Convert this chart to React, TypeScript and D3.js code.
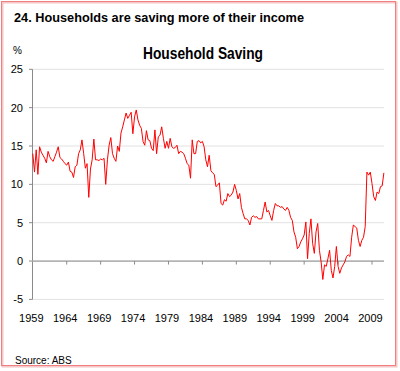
import React from "react";
import * as d3 from "d3";

const startYear = 1959;
const savingRatio: number[] = [
  14.0, 11.6, 14.5, 11.3, 14.9, 14.2, 13.8, 13.4, 12.8, 14.3,
  13.6, 13.2, 13.0, 13.6, 14.2, 14.9, 13.5, 13.3, 13.0, 12.7,
  12.5, 12.9, 11.7, 11.6, 10.9, 12.3, 12.5, 14.0, 14.5, 15.8,
  14.0, 12.1, 12.7, 8.3, 12.0, 13.2, 15.9, 13.2, 13.2, 13.1,
  13.3, 13.2, 13.4, 10.0, 13.2, 15.1, 16.1, 14.0, 13.4, 13.0,
  15.0, 14.3, 16.7, 17.5, 18.4, 19.3, 18.6, 19.0, 19.4, 16.6,
  18.8, 19.7, 18.4, 17.7, 17.3, 15.6, 15.1, 17.0, 15.8, 15.7,
  14.7, 14.4, 17.1, 14.0, 16.2, 16.4, 17.5, 16.0, 14.7, 15.6,
  14.7, 16.0, 14.9, 14.7, 14.8, 15.1, 14.0, 14.3, 14.2, 14.0,
  13.4, 12.7, 12.5, 10.8, 15.8, 14.0, 14.0, 15.6, 15.7, 15.4,
  15.6, 14.9, 13.2, 12.3, 13.8, 11.8, 11.5, 11.3, 9.7, 9.9,
  10.2, 7.5, 7.3, 8.0, 7.8, 8.8, 8.4, 8.6, 9.0, 10.0,
  9.2, 8.1, 8.8, 7.0, 6.2, 5.5, 5.5, 5.3, 4.7, 5.7,
  5.9, 5.7, 5.8, 5.5, 5.5, 5.5, 6.6, 7.7, 6.4, 6.6,
  5.9, 5.3, 6.6, 7.5, 7.2, 7.2, 7.0, 7.1, 6.8, 6.6,
  7.0, 6.6, 5.7, 5.3, 3.8, 3.1, 1.6, 1.9, 2.5, 2.9,
  3.4, 5.1, 0.3, 3.6, 5.5, 2.3, 1.0, 3.8, 4.9, 1.4,
  -0.1, -2.4, -0.5, -0.7, 0.3, 1.4, -1.2, -2.2, -0.7, 1.9,
  -0.7, -1.6, -0.9, -0.5, -0.1, 0.6, 0.8, 0.6, 3.1, 4.7,
  4.5, 4.3, 2.7, 1.9, 2.7, 3.1, 4.5, 11.6, 11.2, 11.6,
  10.1, 8.4, 7.9, 9.0, 8.8, 9.7, 9.8, 11.5,
];
const yTicks = [25, 20, 15, 10, 5, 0, -5];
const xTickYears = [1959, 1964, 1969, 1974, 1979, 1984, 1989, 1994, 1999, 2004, 2009];

const W = 400;
const H = 371;
const FONT = "'Liberation Sans', Arial, Helvetica, sans-serif";
const NARROW = "'Liberation Sans Narrow', 'Arial Narrow', 'Liberation Sans', Arial, sans-serif";

export default function App() {
  const x = d3.scaleLinear().domain([1959, 2009]).range([32.8, 372]);
  const y = d3.scaleLinear().domain([-5, 25]).range([299.4, 69.3]);
  const plotLeft = 32.5;
  const plotRight = 384;

  const pts = savingRatio.map((v, i) => ({ t: startYear + i / 4, v }));
  const line = d3
    .line<{ t: number; v: number }>()
    .x((d) => x(d.t))
    .y((d) => y(d.v));

  return (
    <svg
      width={W}
      height={H}
      style={{ position: "absolute", left: 0, top: 0, background: "#fff" }}
    >
      {/* frame */}
      <rect x={2.5} y={2.5} width={394} height={364} fill="none" stroke="#f7c6c6" strokeWidth={2} />
      <rect x={1.5} y={1.5} width={394} height={364} fill="none" stroke="#ef7f80" strokeWidth={1} />

      {/* titles */}
      <text
        x={14}
        y={22}
        fontFamily={NARROW}
        fontWeight="bold"
        fontSize={13.5}
        textLength={290}
        lengthAdjust="spacingAndGlyphs"
        fill="#000"
      >
        24. Households are saving more of their income
      </text>
      <text
        x={143}
        y={59}
        fontFamily={NARROW}
        fontWeight="bold"
        fontSize={16.5}
        textLength={120}
        lengthAdjust="spacingAndGlyphs"
        fill="#000"
      >
        Household Saving
      </text>
      <text x={13} y={54} fontFamily={FONT} fontSize={10} fill="#000">
        %
      </text>

      {/* gridlines */}
      {yTicks
        .filter((t) => t !== 0)
        .map((t) => (
          <line
            key={"g" + t}
            x1={plotLeft}
            x2={plotRight}
            y1={y(t)}
            y2={y(t)}
            stroke="#e2e2e2"
            strokeWidth={1}
          />
        ))}

      {/* y axis */}
      <line x1={plotLeft} x2={plotLeft} y1={y(25)} y2={y(-5)} stroke="#8a8a8a" strokeWidth={1} />
      {yTicks.map((t) => (
        <g key={"yt" + t}>
          <line x1={plotLeft - 3.5} x2={plotLeft} y1={y(t)} y2={y(t)} stroke="#8a8a8a" strokeWidth={1} />
          <text
            x={23}
            y={y(t) + 4}
            textAnchor="end"
            fontFamily={FONT}
            fontSize={11}
            fill="#000"
          >
            {t}
          </text>
        </g>
      ))}

      {/* zero axis */}
      <line x1={plotLeft} x2={plotRight} y1={y(0)} y2={y(0)} stroke="#b4b4b4" strokeWidth={1.8} />
      {xTickYears.slice(1).map((yr) => (
        <line
          key={"xt" + yr}
          x1={x(yr)}
          x2={x(yr)}
          y1={y(0)}
          y2={y(0) + 3.5}
          stroke="#8a8a8a"
          strokeWidth={1}
        />
      ))}
      {xTickYears.map((yr) => (
        <text
          key={"xl" + yr}
          x={x(yr) - 1.5}
          y={322}
          textAnchor="middle"
          fontFamily={FONT}
          fontSize={11}
          fill="#000"
        >
          {yr}
        </text>
      ))}

      {/* data */}
      <path d={line(pts) || ""} fill="none" stroke="#ff0000" strokeWidth={1} strokeLinejoin="round" />

      <text x={15} y={364} fontFamily={FONT} fontSize={10} fill="#000">
        Source: ABS
      </text>
    </svg>
  );
}
